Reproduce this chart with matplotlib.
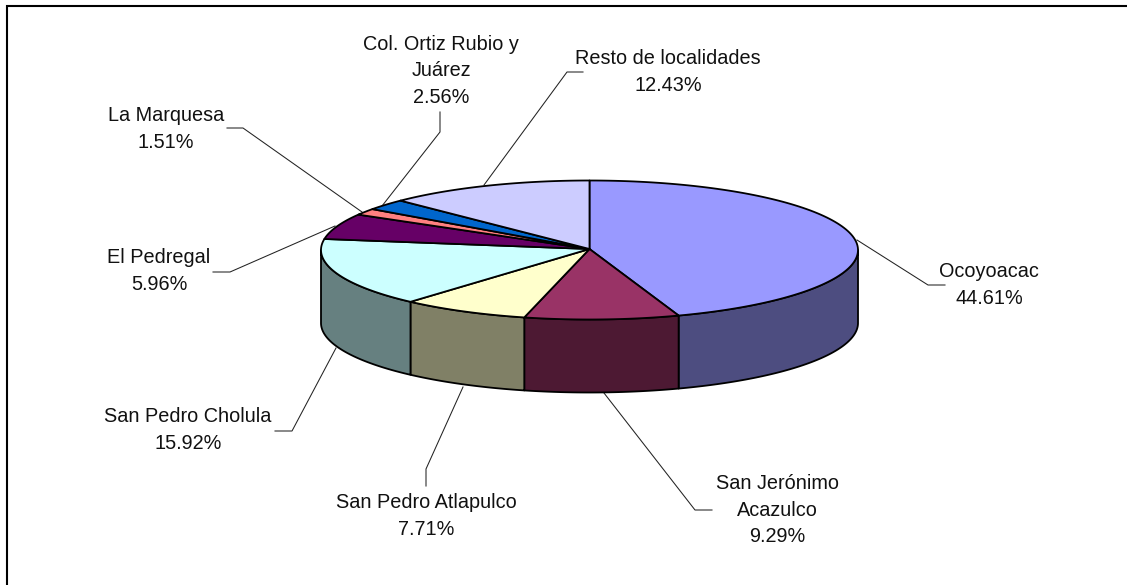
import numpy as np
import matplotlib
matplotlib.use("Agg")
import matplotlib.pyplot as plt
from matplotlib.patches import Polygon

plt.rcParams['font.family'] = ['Liberation Sans', 'DejaVu Sans']

# values, clockwise from 12 o'clock
names = ["Ocoyoacac", "San Jerónimo\nAcazulco", "San Pedro Atlapulco", "San Pedro Cholula",
         "El Pedregal", "La Marquesa", "Col. Ortiz Rubio y\nJuárez", "Resto de localidades"]
values = [44.61, 9.29, 7.71, 15.92, 5.96, 1.51, 2.56, 12.43]

top_colors = ["#9999FF", "#993366", "#FFFFCC", "#CCFFFF", "#660066", "#FF8080", "#0066CC", "#CCCCFF"]
side_colors = ["#4D4D80", "#4D1933", "#808066", "#668080", "#330033", "#804040", "#003366", "#666680"]

# label centres and leader paths, in image pixels
label_pos = [(989, 285), (777, 510), (426, 516), (188, 430),
             (159, 271), (166, 129), (441, 71), (668, 72)]
leaders = [
    [(857, 240), (928, 285), (945, 285)],
    [(604, 393), (695, 510), (712, 510)],
    [(463, 387), (426, 469), (426, 486)],
    [(336, 348), (292, 431), (275, 431)],
    [(335, 226), (230, 272), (213, 272)],
    [(362, 212), (243, 128), (227, 128)],
    [(382, 206), (440, 132), (440, 112)],
    [(484, 185), (567, 72), (583, 72)],
]

# pie geometry
cx, cy = 589.5, 250
rx, ry = 268.5, 69.5
depth = 73


def rim(a0, a1, drop=0):
    t = np.radians(np.linspace(a0, a1, 120))
    return np.column_stack([cx + rx * np.sin(t), cy + drop + ry * -np.cos(t)])


fig = plt.figure(figsize=(11.27, 5.85), dpi=100)
ax = fig.add_axes([0, 0, 1, 1])
ax.set_xlim(0, 1127)
ax.set_ylim(585, 0)
ax.axis("off")

# chart frame, cut off by the right and bottom edges of the image
ax.plot([7, 7, 1127], [585, 6, 6], color="black", lw=1.5, solid_joinstyle="miter")

edges = np.cumsum([0] + values) / sum(values) * 360

# walls: only the front half of the rim is visible
for i in range(len(values)):
    a0 = max(edges[i], 90)
    a1 = min(edges[i + 1], 270)
    if a1 <= a0:
        continue
    pts = np.vstack([rim(a0, a1), rim(a0, a1, depth)[::-1]])
    ax.add_patch(Polygon(pts, closed=True, facecolor=side_colors[i], edgecolor="black",
                         lw=1.3, joinstyle="round", zorder=2))

# top faces
for i in range(len(values)):
    pts = np.vstack([[(cx, cy - 1)], rim(edges[i], edges[i + 1])])
    ax.add_patch(Polygon(pts, closed=True, facecolor=top_colors[i], edgecolor="black",
                         lw=1.3, joinstyle="round", zorder=3))

for i in range(len(values)):
    path = np.array(leaders[i])
    ax.plot(path[:, 0], path[:, 1], color="#222222", lw=0.75, zorder=1)
    ax.text(label_pos[i][0], label_pos[i][1], f"{names[i]}\n{values[i]:.2f}%",
            ha="center", va="center", fontsize=14.3, color="#111111", linespacing=1.5)

fig.savefig("out.png", dpi=100)
